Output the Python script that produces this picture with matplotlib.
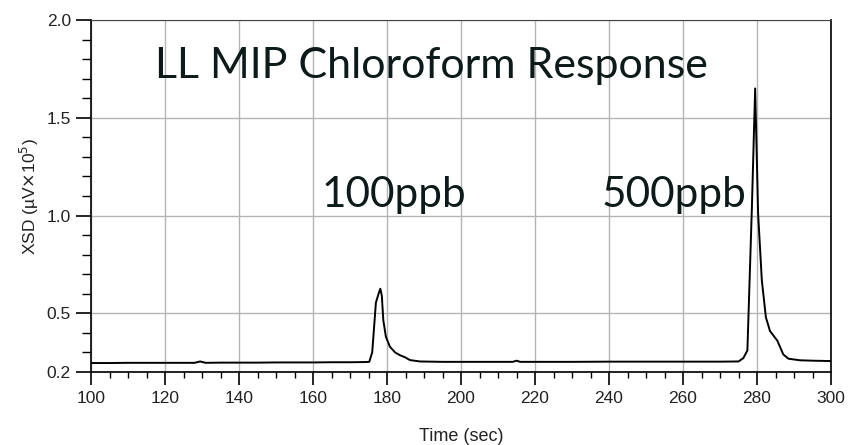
import matplotlib
matplotlib.use("Agg")
import matplotlib.pyplot as plt
from matplotlib.ticker import MultipleLocator, FixedLocator

# ---- data ----
time_sec = [100, 105, 110, 115, 120, 125, 128, 129.5, 131, 135, 140, 145, 150, 155,
            160, 165, 170, 174, 175.2, 176.0, 177.0, 177.75, 178.2, 178.6, 179.0,
            179.7, 180.8, 182.2, 183.5, 184.9, 186.2, 188.9, 195, 200, 205, 210,
            214, 215, 216, 220, 230, 240, 250, 260, 270, 275, 276.3, 277.4, 278.6,
            279.5, 280.3, 281.3, 282.4, 283.5, 285.5, 287.1, 288.5, 291.6, 295, 300]
xsd = [0.246, 0.246, 0.247, 0.247, 0.247, 0.247, 0.247, 0.254, 0.247, 0.248, 0.248,
       0.248, 0.249, 0.249, 0.249, 0.250, 0.250, 0.251, 0.252, 0.30, 0.555, 0.602,
       0.626, 0.59, 0.465, 0.38, 0.329, 0.30, 0.286, 0.275, 0.261, 0.254, 0.252,
       0.252, 0.252, 0.252, 0.252, 0.258, 0.252, 0.252, 0.252, 0.253, 0.253, 0.253,
       0.253, 0.254, 0.271, 0.31, 1.03, 1.65, 1.01, 0.67, 0.48, 0.41, 0.36, 0.29,
       0.268, 0.26, 0.258, 0.256]

y_major = [0.2, 0.5, 1.0, 1.5, 2.0]
y_labels = ["0.2", "0.5", "1.0", "1.5", "2.0"]
x_major = [100, 120, 140, 160, 180, 200, 220, 240, 260, 280, 300]

title_text = "LL MIP Chloroform Response"
ann_labels = ["100ppb", "500ppb"]
ann_x = [162.3, 238.0]
ann_y = [1.045, 1.045]

fig = plt.figure(figsize=(8.49, 4.45), dpi=100)
ax = fig.add_axes([0.1072, 0.164, 0.8716, 0.791])

ax.plot(time_sec, xsd, color="black", lw=1.4, zorder=3)

ax.set_xlim(100, 300)
ax.set_ylim(0.2, 2.0)

ax.xaxis.set_major_locator(FixedLocator(x_major))
ax.xaxis.set_minor_locator(MultipleLocator(5))
ax.yaxis.set_major_locator(FixedLocator(y_major))
ax.set_yticklabels(y_labels)
ax.yaxis.set_minor_locator(MultipleLocator(0.1))

for lab in ax.get_xticklabels() + ax.get_yticklabels():
    lab.set_fontfamily("Liberation Sans")
    lab.set_fontsize(12.5)
    lab.set_color("#222222")

ax.tick_params(axis="x", which="major", direction="out", length=9.5, width=1.2, pad=4)
ax.tick_params(axis="x", which="minor", direction="out", length=4, width=1.0)
ax.tick_params(axis="y", which="major", direction="out", length=10.5, width=1.2, pad=4)
ax.tick_params(axis="y", which="minor", direction="out", length=6.5, width=1.0)

ax.grid(True, which="major", color="#b4b4b4", lw=1.0, zorder=0)

for side in ["left", "bottom", "right"]:
    ax.spines[side].set_linewidth(1.3)
    ax.spines[side].set_color("#111111")
ax.spines["top"].set_linewidth(0.8)
ax.spines["top"].set_color("#444444")

ax.set_xlabel("Time (sec)", family="Liberation Sans", fontsize=13, color="#222222")
ax.xaxis.set_label_coords(0.5, -0.16)
ax.set_ylabel("XSD (µV$\\times$10$^5$)", family="Liberation Sans", fontsize=12.5,
              color="#222222")
ax.yaxis.set_label_coords(-0.068, 0.5)

ax.text(117.3, 1.702, title_text, family="Lato", fontsize=31, color="#0d1a1a",
        ha="left", va="baseline", zorder=4)
for lab, xx, yy in zip(ann_labels, ann_x, ann_y):
    ax.text(xx, yy, lab, family="Lato", fontsize=30.5, color="#0d1a1a",
            ha="left", va="baseline", zorder=4)

fig.savefig("out.png", dpi=100)
